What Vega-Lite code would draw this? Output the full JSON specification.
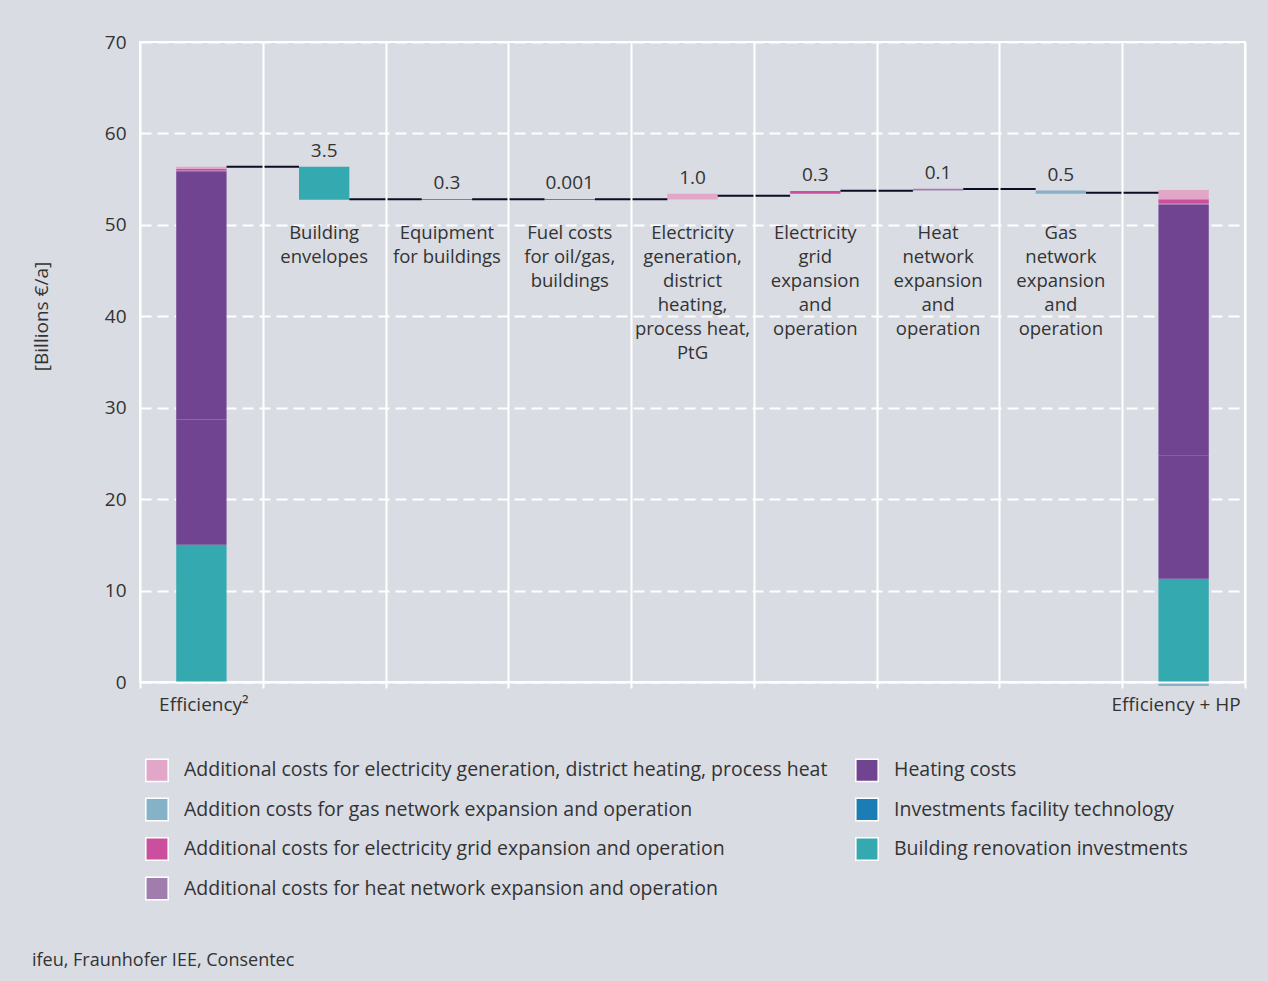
{
  "$schema": "https://vega.github.io/schema/vega-lite/v6.json",
  "width": 1105,
  "height": 640,
  "autosize": {"type": "none"},
  "padding": {"left": 140, "top": 42, "right": 23, "bottom": 299},
  "background": "#d9dce3",
  "config": {
    "font": "Open Sans",
    "view": {"stroke": "white", "strokeWidth": 2}
  },
  "title": {
    "text": "ifeu, Fraunhofer IEE, Consentec",
    "orient": "bottom",
    "anchor": "start",
    "frame": "bounds",
    "fontSize": 18,
    "fontWeight": "normal",
    "color": "#333333",
    "offset": 49
  },
  "datasets": {
    "bars": [
      {"cat": "Efficiency²", "series": "Building renovation investments", "y0": 0, "y1": 15.0, "label": null},
      {"cat": "Efficiency²", "series": "Heating costs", "y0": 15.0, "y1": 28.7, "label": null},
      {"cat": "Efficiency²", "series": "Heating costs", "y0": 28.7, "y1": 55.85, "label": null},
      {"cat": "Efficiency²", "series": "Additional costs for heat network expansion and operation", "y0": 55.85, "y1": 55.95, "label": null},
      {"cat": "Efficiency²", "series": "Additional costs for electricity grid expansion and operation", "y0": 55.95, "y1": 56.1, "label": null},
      {"cat": "Efficiency²", "series": "Additional costs for electricity generation, district heating, process heat", "y0": 56.1, "y1": 56.35, "label": null},
      {"cat": "Building envelopes", "series": "Building renovation investments", "y0": 56.35, "y1": 52.75, "label": "3.5"},
      {"cat": "Equipment for buildings", "series": "Investments facility technology", "y0": 52.74, "y1": 52.84, "label": "0.3"},
      {"cat": "Fuel costs", "series": "Heating costs", "y0": 52.74, "y1": 52.82, "label": "0.001"},
      {"cat": "Electricity generation", "series": "Additional costs for electricity generation, district heating, process heat", "y0": 52.76, "y1": 53.41, "label": "1.0"},
      {"cat": "Electricity grid", "series": "Additional costs for electricity grid expansion and operation", "y0": 53.41, "y1": 53.7, "label": "0.3"},
      {"cat": "Heat network", "series": "Additional costs for heat network expansion and operation", "y0": 53.75, "y1": 53.96, "label": "0.1"},
      {"cat": "Gas network", "series": "Addition costs for gas network expansion and operation", "y0": 53.75, "y1": 53.41, "label": "0.5"},
      {"cat": "Efficiency + HP", "series": "Addition costs for gas network expansion and operation", "y0": -0.45, "y1": 0, "label": null},
      {"cat": "Efficiency + HP", "series": "Building renovation investments", "y0": 0, "y1": 11.3, "label": null},
      {"cat": "Efficiency + HP", "series": "Heating costs", "y0": 11.3, "y1": 24.8, "label": null},
      {"cat": "Efficiency + HP", "series": "Heating costs", "y0": 24.8, "y1": 52.17, "label": null},
      {"cat": "Efficiency + HP", "series": "Additional costs for heat network expansion and operation", "y0": 52.17, "y1": 52.36, "label": null},
      {"cat": "Efficiency + HP", "series": "Additional costs for electricity grid expansion and operation", "y0": 52.36, "y1": 52.8, "label": null},
      {"cat": "Efficiency + HP", "series": "Additional costs for electricity generation, district heating, process heat", "y0": 52.8, "y1": 53.8, "label": null}
    ],
    "connectors": [
      {"from": "Efficiency²", "to": "Building envelopes", "level": 56.35},
      {"from": "Building envelopes", "to": "Equipment for buildings", "level": 52.8},
      {"from": "Equipment for buildings", "to": "Fuel costs", "level": 52.8},
      {"from": "Fuel costs", "to": "Electricity generation", "level": 52.8},
      {"from": "Electricity generation", "to": "Electricity grid", "level": 53.19},
      {"from": "Electricity grid", "to": "Heat network", "level": 53.74},
      {"from": "Heat network", "to": "Gas network", "level": 53.92},
      {"from": "Gas network", "to": "Efficiency + HP", "level": 53.52}
    ],
    "names": [
      {"cat": "Building envelopes", "name": "Building\nenvelopes"},
      {"cat": "Equipment for buildings", "name": "Equipment\nfor buildings"},
      {"cat": "Fuel costs", "name": "Fuel costs\nfor oil/gas,\nbuildings"},
      {"cat": "Electricity generation", "name": "Electricity\ngeneration,\ndistrict\nheating,\nprocess heat,\nPtG"},
      {"cat": "Electricity grid", "name": "Electricity\ngrid\nexpansion\nand\noperation"},
      {"cat": "Heat network", "name": "Heat\nnetwork\nexpansion\nand\noperation"},
      {"cat": "Gas network", "name": "Gas\nnetwork\nexpansion\nand\noperation"}
    ]
  },
  "layer": [
    {
      "data": {"name": "bars"},
      "mark": {"type": "bar", "width": {"band": 0.41}},
      "encoding": {
        "x": {
          "field": "cat",
          "type": "nominal",
          "scale": {
            "domain": ["Efficiency²", "Building envelopes", "Equipment for buildings", "Fuel costs", "Electricity generation", "Electricity grid", "Heat network", "Gas network", "Efficiency + HP"],
            "paddingInner": 0,
            "paddingOuter": 0
          },
          "axis": {
            "title": null,
            "labelExpr": "datum.value == 'Efficiency²' || datum.value == 'Efficiency + HP' ? datum.label : ''",
            "labelAngle": 0,
            "labelFontSize": 19,
            "labelColor": "#333333",
            "labelPadding": 7,
            "labelOffset": {"condition": {"test": "datum.value == 'Efficiency + HP'", "value": -8}, "value": 2},
            "domain": true,
            "domainColor": "white",
            "domainWidth": 2,
            "ticks": true,
            "tickColor": "white",
            "tickWidth": 2,
            "tickSize": 6,
            "tickBand": "extent",
            "grid": true,
            "gridColor": "white",
            "gridWidth": 2,
            "gridDash": [],
            "gridOpacity": 1,
            "zindex": 1
          }
        },
        "y": {
          "field": "y0",
          "type": "quantitative",
          "scale": {"domain": [0, 70], "nice": false},
          "axis": {
            "title": "[Billions €/a]",
            "values": [0, 10, 20, 30, 40, 50, 60, 70],
            "grid": true,
            "gridColor": "white",
            "gridWidth": 2,
            "gridDash": [11, 6],
            "gridOpacity": 1,
            "domain": false,
            "ticks": false,
            "labelPadding": 14,
            "labelFontSize": 19,
            "labelColor": "#333333",
            "titleFontSize": 19,
            "titleFontWeight": "normal",
            "titleColor": "#333333",
            "titleAngle": -90,
            "titleX": -99,
            "titleY": 274,
            "titleAlign": "center",
            "titleBaseline": "middle"
          }
        },
        "y2": {"field": "y1"},
        "color": {
          "field": "series",
          "type": "nominal",
          "scale": {
            "domain": [
              "Additional costs for electricity generation, district heating, process heat",
              "Addition costs for gas network expansion and operation",
              "Additional costs for electricity grid expansion and operation",
              "Additional costs for heat network expansion and operation",
              "Heating costs",
              "Investments facility technology",
              "Building renovation investments"
            ],
            "range": ["#e2a6c9", "#86b2c8", "#cc4e9f", "#a17dae", "#714492", "#1a7db3", "#35a9b0"]
          },
          "legend": {
            "orient": "none",
            "legendX": 5,
            "legendY": 716,
            "columns": 2,
            "title": null,
            "symbolType": "square",
            "symbolSize": 500,
            "symbolStrokeColor": "white",
            "symbolStrokeWidth": 1.5,
            "symbolOpacity": 1,
            "labelFontSize": 19.5,
            "labelColor": "#333333",
            "labelLimit": 900,
            "labelOffset": 15,
            "rowPadding": 9.5,
            "columnPadding": 24
          }
        }
      }
    },
    {
      "data": {"name": "connectors"},
      "mark": {"type": "rule", "color": "#0c0c26", "strokeWidth": 2},
      "encoding": {
        "x": {"field": "from", "type": "nominal", "bandPosition": 0.705},
        "x2": {"field": "to", "bandPosition": 0.295},
        "y": {"field": "level", "type": "quantitative"}
      }
    },
    {
      "data": {"name": "bars"},
      "transform": [
        {"filter": "datum.label != null"},
        {"calculate": "max(datum.y0, datum.y1)", "as": "top"}
      ],
      "mark": {"type": "text", "fontSize": 19, "color": "#333333", "baseline": "alphabetic", "dy": -10},
      "encoding": {
        "x": {"field": "cat", "type": "nominal"},
        "y": {"field": "top", "type": "quantitative"},
        "text": {"field": "label"}
      }
    },
    {
      "data": {"name": "names"},
      "mark": {"type": "text", "fontSize": 18.5, "color": "#333333", "baseline": "top", "lineBreak": "\n", "lineHeight": 24, "dy": -1},
      "encoding": {
        "x": {"field": "cat", "type": "nominal"},
        "y": {"datum": 50},
        "text": {"field": "name"}
      }
    }
  ]
}
